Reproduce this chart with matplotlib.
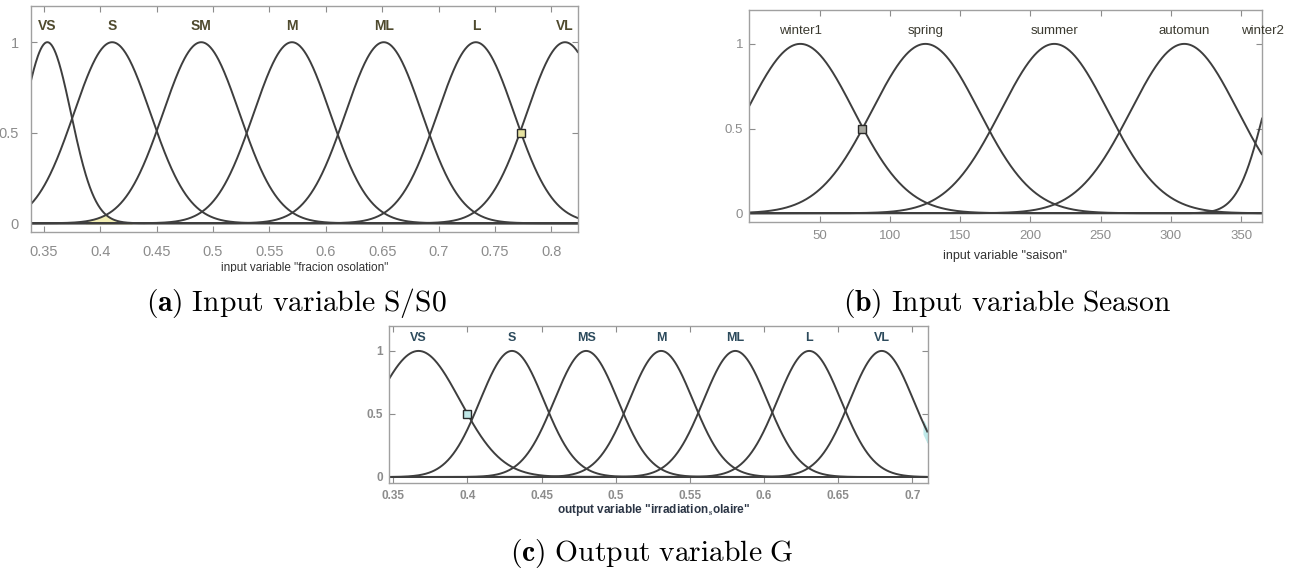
import numpy as np
import matplotlib
matplotlib.use('Agg')
import matplotlib.pyplot as plt
from matplotlib.patches import Rectangle

plt.rcParams['mathtext.fontset'] = 'cm'
plt.rcParams['font.family'] = ['Liberation Sans', 'DejaVu Sans']

# ---------------- data (membership function parameters) ----------
a_labels = ['VS', 'S', 'SM', 'M', 'ML', 'L', 'VL']
a_centers = [0.353, 0.4105, 0.4895, 0.570, 0.6514, 0.7331, 0.8122]
a_sigmas = [0.021, 0.034, 0.034, 0.034, 0.034, 0.034, 0.034]
a_xlim = (0.3385, 0.824)
a_xticks = [0.35, 0.4, 0.45, 0.5, 0.55, 0.6, 0.65, 0.7, 0.75, 0.8]
a_xticklabels = ['0.35', '0.4', '0.45', '0.5', '0.55', '0.6', '0.65', '0.7', '0.75', '0.8']
a_marker = (0.7736, 0.5)

b_labels = ['winter1', 'spring', 'summer', 'automun', 'winter2']
b_centers = [36.3, 125.3, 217.0, 309.5, 385.0]
b_sigmas = [38.0, 38.0, 38.0, 38.0, 18.7]
b_xlim = (0, 365)
b_xticks = [50, 100, 150, 200, 250, 300, 350]
b_xticklabels = ['50', '100', '150', '200', '250', '300', '350']
b_marker = (80.0, 0.5)

c_labels = ['VS', 'S', 'MS', 'M', 'ML', 'L', 'VL']
c_centers = [0.367, 0.430, 0.480, 0.5306, 0.5806, 0.6304, 0.6793]
c_sigmas = [0.028, 0.0215, 0.0215, 0.0215, 0.0215, 0.0215, 0.0215]
c_xlim = (0.3473, 0.7103)
c_xticks = [0.35, 0.4, 0.45, 0.5, 0.55, 0.6, 0.65, 0.7]
c_xticklabels = ['0.35', '0.4', '0.45', '0.5', '0.55', '0.6', '0.65', '0.7']
c_marker = (0.400, 0.5)

y_ticks = [0, 0.5, 1]
y_ticklabels = ['0', '0.5', '1']

# ---------------- layout ----------------
W, H = 1296, 571
fig = plt.figure(figsize=(W / 100, H / 100), dpi=100)


def ax_px(l, t, r, b):
    return fig.add_axes([l / W, 1 - b / H, (r - l) / W, (b - t) / H])


LINE = '#3e3e3e'
FRAME = '#a0a0a0'
TICKC = '#8c8c8c'


def gauss(x, c, s):
    return np.exp(-((x - c) ** 2) / (2 * s ** 2))


def panel(ax, labels, centers, sigmas, xlim, xticks, xticklabels, tickfs, xpad, ypad,
          labfs, labcolor, labweight, laby, marker, mfc):
    x = np.linspace(xlim[0], xlim[1], 800)
    for c, s in zip(centers, sigmas):
        ax.plot(x, gauss(x, c, s), color=LINE, lw=1.4, solid_capstyle='butt')
    ax.axhline(0, color=LINE, lw=1.4)
    ax.set_xlim(*xlim)
    ax.set_ylim(-0.05, 1.2)
    ax.set_xticks(xticks)
    ax.set_xticklabels(xticklabels)
    ax.set_yticks(y_ticks)
    ax.set_yticklabels(y_ticklabels)
    ax.tick_params(axis='both', direction='in', top=True, right=True,
                   color=TICKC, labelcolor=TICKC, length=4, width=0.8,
                   labelsize=tickfs)
    ax.tick_params(axis='x', pad=xpad)
    ax.tick_params(axis='y', pad=ypad)
    for sp in ax.spines.values():
        sp.set_color(FRAME)
        sp.set_linewidth(1.0)
    for lab, c in zip(labels, centers):
        xp = min(max(c, xlim[0]), xlim[1])
        ax.text(xp, laby, lab, ha='center', va='center', fontsize=labfs,
                color=labcolor, fontweight=labweight, clip_on=False)
    ax.plot([marker[0]], [marker[1]], marker='s', ms=5.5, mfc=mfc, mec='#2a2a2a',
            mew=1.0, zorder=5)
    return x


# panel (a)
axa = ax_px(31, 6, 578.3, 232.3)
xa = panel(axa, a_labels, a_centers, a_sigmas, a_xlim, a_xticks, a_xticklabels,
           10.5, 9.5, 8.8, 10, '#4f4a2e', 'bold', 1.092, a_marker, '#e6e2a0')
mask = (xa > 0.387) & (xa < 0.428)
ya = np.minimum(gauss(xa, a_centers[0], a_sigmas[0]), gauss(xa, a_centers[2], a_sigmas[2]))
axa.fill_between(xa[mask], 0, ya[mask], color='#f3efb4', zorder=1)

# panel (b)
axb = ax_px(749.3, 10, 1262.3, 221.7)
panel(axb, b_labels, b_centers, b_sigmas, b_xlim, b_xticks, b_xticklabels,
      9.5, 6.0, 4.3, 9.5, '#3b3a30', 'normal', 1.075, b_marker, '#a8a8a0')

# panel (c)
axc = ax_px(389.3, 325.7, 927.7, 483.3)
xc = panel(axc, c_labels, c_centers, c_sigmas, c_xlim, c_xticks, c_xticklabels,
           8.5, 4.5, 4.3, 9, '#2c4a5c', 'bold', 1.106, c_marker, '#bfe6e6')
maskc = xc > 0.7075
yc = gauss(xc, c_centers[6], c_sigmas[6])
axc.fill_between(xc[maskc], yc[maskc] - 0.08, yc[maskc] + 0.02, color='#bfeaea', zorder=1)
for lab in axc.get_xticklabels() + axc.get_yticklabels():
    lab.set_fontweight('bold')

# axis titles
fig.text(304.6 / W, 1 - 268.5 / H, 'input variable "fracion osolation"', ha='center',
         va='center', fontsize=8.5, color='#333333')
# the reference shows this title cut off at its lower half
fig.patches.append(Rectangle((180 / W, 1 - 282 / H), 260 / W, 10.5 / H,
                             transform=fig.transFigure, facecolor='white',
                             edgecolor='none', zorder=10))
fig.text(1005 / W, 1 - 256 / H, 'input variable "saison"', ha='center', va='center',
         fontsize=9, color='#333333')
fig.text(653.5 / W, 1 - 510 / H, 'output variable "irradiation$_{\\mathbf{s}}$olaire"',
         ha='center', va='center', fontsize=8.5, color='#2b3545', fontweight='bold')

# captions
fig.text(447 / W, 1 - 311.5 / H, r'$\mathbf{(a)}\ \mathrm{Input\ variable\ S/S0}$',
         ha='right', va='baseline', fontsize=21.3, color='black')
fig.text(843 / W, 1 - 311.5 / H, r'$\mathbf{(b)}\ \mathrm{Input\ variable\ Season}$',
         ha='left', va='baseline', fontsize=21.3, color='black')
fig.text(652 / W, 1 - 561.5 / H, r'$\mathbf{(c)}\ \mathrm{Output\ variable\ G}$',
         ha='center', va='baseline', fontsize=21.3, color='black')

fig.savefig('out.png', dpi=100)
